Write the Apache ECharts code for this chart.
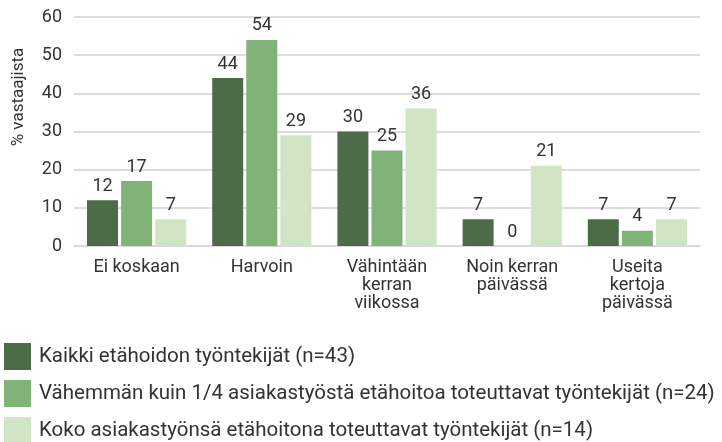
<!DOCTYPE html>
<html><head><meta charset="utf-8">
<script src="https://cdn.jsdelivr.net/npm/echarts@6/dist/echarts.min.js"></script>
<style>html,body{margin:0;padding:0;background:#fff}#c{width:722px;height:442px}</style>
</head><body><div id="c"></div>
<script>
const categories = ["Ei koskaan", "Harvoin", "Vähintään\nkerran\nviikossa", "Noin kerran\npäivässä", "Useita\nkertoja\npäivässä"];
const seriesNames = ["Kaikki etähoidon työntekijät (n=43)", "Vähemmän kuin 1/4 asiakastyöstä etähoitoa toteuttavat työntekijät (n=24)", "Koko asiakastyönsä etähoitona toteuttavat työntekijät (n=14)"];
const allWorkers = [12, 44, 30, 7, 7];
const lessThanQuarter = [17, 54, 25, 0, 4];
const fullRemote = [7, 29, 36, 21, 7];
const yTicks = [0, 10, 20, 30, 40, 50, 60];
const yTitle = "% vastaajista";
const colors = ["#4b6c47", "#81b378", "#d1e5c5"];
const FONT = "Roboto";
const chart = echarts.init(document.getElementById('c'));
const mk = (name, data, i) => ({
  name, type: 'bar', data, barWidth: 31, barGap: '10%',
  itemStyle: { color: colors[i] },
  label: { show: true, position: 'top', distance: 5, color: '#333', fontSize: 18, fontFamily: FONT }
});
chart.setOption({
  animation: false,
  textStyle: { fontFamily: FONT },
  grid: { left: 74, right: 22, top: 17, bottom: 196 },
  graphic: [{
    type: 'text', x: 19, y: 97, rotation: Math.PI / 2,
    style: { text: yTitle, fontSize: 17, fill: '#333', fontFamily: FONT, align: 'center', verticalAlign: 'middle' }
  }],
  legend: {
    orient: 'vertical', left: 4, top: 343, height: 130, padding: 0,
    itemWidth: 27, itemHeight: 27, itemGap: 10,
    icon: 'rect',
    textStyle: { fontSize: 20.5, color: '#333', fontFamily: FONT, padding: [0, 0, 0, 3] },
    data: seriesNames
  },
  xAxis: {
    type: 'category', data: categories,
    axisLine: { lineStyle: { color: '#d9d9d9', width: 2 } },
    axisTick: { show: false },
    axisLabel: { fontSize: 18, color: '#333', fontFamily: FONT, lineHeight: 18, margin: 12, interval: 0 }
  },
  yAxis: {
    type: 'value', min: yTicks[0], max: yTicks[yTicks.length - 1], interval: 10,
    axisLine: { show: false }, axisTick: { show: false },
    axisLabel: { fontSize: 18, color: '#333', fontFamily: FONT, margin: 12 },
    splitLine: { lineStyle: { color: '#dcdcdc', width: 2 } }
  },
  series: [mk(seriesNames[0], allWorkers, 0), mk(seriesNames[1], lessThanQuarter, 1), mk(seriesNames[2], fullRemote, 2)]
});
</script></body></html>
